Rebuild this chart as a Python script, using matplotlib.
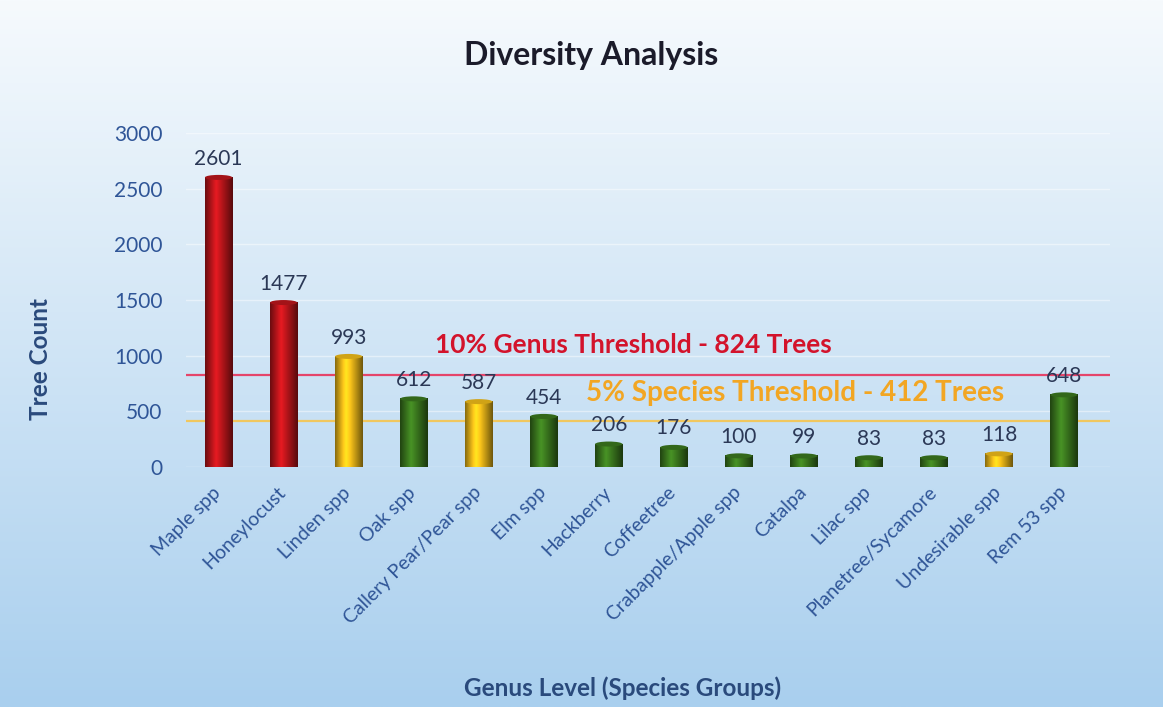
import numpy as np
import matplotlib
matplotlib.use('Agg')
from matplotlib import pyplot as plt
from matplotlib.colors import to_rgb
from matplotlib.patches import Ellipse

plt.rcParams['font.family'] = ['Lato', 'DejaVu Sans']

groups = ['Maple spp', 'Honeylocust', 'Linden spp', 'Oak spp', 'Callery Pear/Pear spp',
          'Elm spp', 'Hackberry', 'Coffeetree', 'Crabapple/Apple spp', 'Catalpa',
          'Lilac spp', 'Planetree/Sycamore', 'Undesirable spp', 'Rem 53 spp']
counts = [2601, 1477, 993, 612, 587, 454, 206, 176, 100, 99, 83, 83, 118, 648]
status = ['genus', 'genus', 'species', 'ok', 'species', 'ok', 'ok', 'ok',
          'ok', 'ok', 'ok', 'ok', 'species', 'ok']
genus_threshold = 824
species_threshold = 412

colors = {'genus': '#c0161c', 'species': '#f5c01a', 'ok': '#3c7a1f'}

fig = plt.figure(figsize=(11.63, 7.07), dpi=100)

# background gradient
bg = fig.add_axes([0, 0, 1, 1], zorder=-10)
top = np.array(to_rgb('#f6fafd'))
bot = np.array(to_rgb('#a9cfee'))
t = np.linspace(0, 1, 256)[:, None]
grad = top * (1 - t) + bot * t
bg.imshow(grad[:, None, :].repeat(2, axis=1), aspect='auto', extent=[0, 1, 0, 1])
bg.axis('off')

ax = fig.add_axes([0.16, 0.3395, 0.794, 0.4724])
ax.set_facecolor('none')
ax.set_xlim(-0.5, 13.7)
ax.set_ylim(0, 3000)

w = 0.42
x = np.arange(len(groups))
shade = np.concatenate([np.linspace(0.55, 1.2, 40), np.linspace(1.2, 0.45, 60)])
for i, (c, s) in enumerate(zip(counts, status)):
    base = np.array(to_rgb(colors[s]))
    row = np.clip(base[None, :] * shade[:, None], 0, 1)
    ax.imshow(row[None, :, :], aspect='auto', extent=[i - w / 2, i + w / 2, 0, c],
              zorder=3, interpolation='bilinear')
    cap = np.clip(base * 0.85, 0, 1)
    ax.add_patch(Ellipse((i, c), w, 45, facecolor=cap, edgecolor='none', zorder=4))
    ax.add_patch(Ellipse((i, 0), w, 45, facecolor=np.clip(base * 0.6, 0, 1),
                         edgecolor='none', zorder=2))
    ax.text(i, c + 80, str(c), ha='center', va='bottom', fontsize=15,
            color='#2b3856', zorder=5)

ax.axhline(genus_threshold, color='#e5456a', lw=1.6, zorder=2)
ax.axhline(species_threshold, color='#f1c75e', lw=1.6, zorder=2)
ax.text(6.38, 1100, '10% Genus Threshold - 824 Trees', ha='center',
        va='center', fontsize=19, fontweight='bold', color='#d3132b', zorder=5)
ax.text(8.86, 665, '5% Species Threshold - 412 Trees', ha='center',
        va='center', fontsize=20, fontweight='bold', color='#f2a623', zorder=5)

ax.grid(axis='y', color='white', alpha=0.45, lw=1)
ax.set_axisbelow(True)
for sp in ax.spines.values():
    sp.set_visible(False)
ax.set_yticks(range(0, 3001, 500))
ax.tick_params(axis='y', length=0, pad=17, labelsize=15, labelcolor='#2f5597')
ax.set_xticks(x - 0.1)
ax.set_xticklabels(groups, rotation=45, ha='right', rotation_mode='anchor',
                   fontsize=14, color='#2f5597')
ax.tick_params(axis='x', length=0, pad=12)

fig.text(0.508, 0.922, 'Diversity Analysis', ha='center', va='center', fontsize=23,
         fontweight='bold', color='#1b1b2a')
fig.text(0.035, 0.492, 'Tree Count', ha='center', va='center', rotation=90,
         fontsize=17.5, fontweight='bold', color='#2a4a7c')
fig.text(0.535, 0.027, 'Genus Level (Species Groups)', ha='center', va='center',
         fontsize=17.5, fontweight='bold', color='#2a4a7c')

fig.savefig('out.png', dpi=100)
